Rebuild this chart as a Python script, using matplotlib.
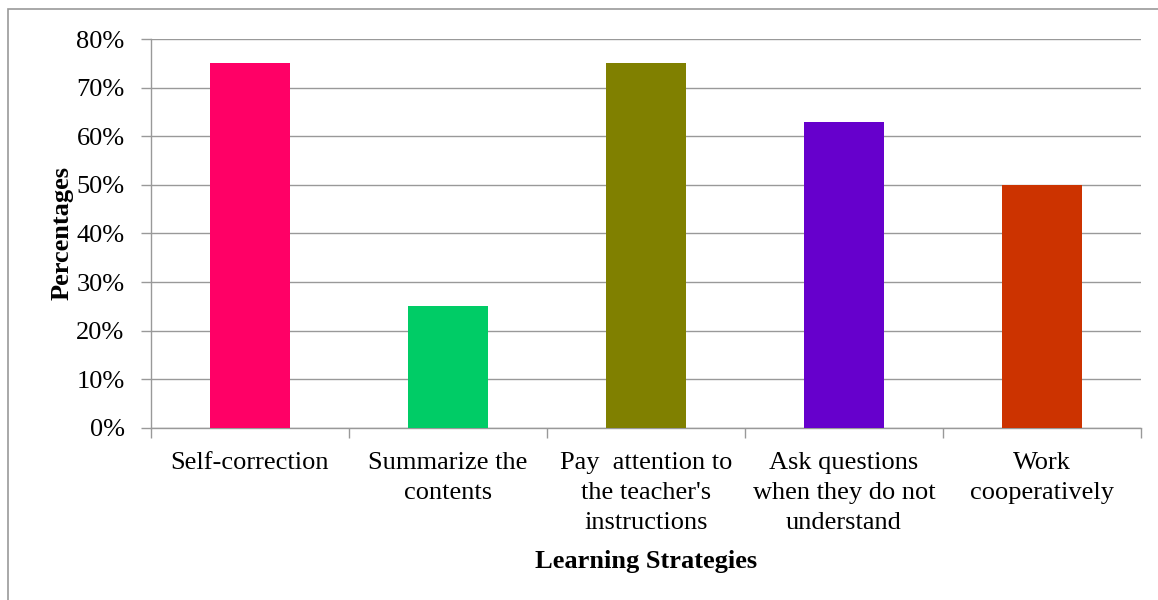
import matplotlib.pyplot as plt
import numpy as np
from matplotlib.patches import Rectangle

plt.rcParams['font.family'] = ['Liberation Serif', 'DejaVu Serif']

categories = ['Self-correction', 'Summarize the\ncontents',
              "Pay  attention to\nthe teacher's\ninstructions",
              'Ask questions\nwhen they do not\nunderstand',
              'Work\ncooperatively']
values = [75, 25, 75, 63, 50]
colors = ['#FF0066', '#00CC66', '#808000', '#6600CC', '#CC3300']
yticks = [0, 10, 20, 30, 40, 50, 60, 70, 80]

fig = plt.figure(figsize=(11.58, 6.0), dpi=100)
ax = fig.add_axes([151/1158, 1-428/600, 990/1158, 389/600])

x = np.arange(len(categories))
ax.bar(x, values, width=0.4, color=colors, zorder=3)

ax.set_xlim(-0.5, len(categories) - 0.5)
ax.set_ylim(0, 80)
ax.set_yticks(yticks)
ax.set_yticklabels([f'{v}%' for v in yticks], fontsize=19)
ax.yaxis.grid(True, color='#999999', linewidth=1.0, zorder=0)

ax.set_xticks(x)
ax.set_xticklabels(categories, fontsize=19, linespacing=1.47)
ax.set_xticks(np.arange(-0.5, len(categories)), minor=True)
ax.tick_params(axis='x', which='major', length=0, pad=17)
ax.tick_params(axis='x', which='minor', length=7, color='#999999', width=1)
ax.tick_params(axis='y', length=7, color='#999999', width=1, pad=12)

for s in ['top', 'right']:
    ax.spines[s].set_visible(False)
for s in ['left', 'bottom']:
    ax.spines[s].set_color('#999999')
    ax.spines[s].set_linewidth(1.0)

ax.set_ylabel('Percentages', fontsize=19, fontweight='bold', labelpad=2)
ax.set_xlabel('Learning Strategies', fontsize=19, fontweight='bold', labelpad=12)

fig.patches.append(Rectangle((8/1158, -0.01), 1.02, 1 - 9/600 + 0.01,
                             transform=fig.transFigure, fill=False,
                             edgecolor='#999999', linewidth=1.2))

fig.savefig('out.png', dpi=100)
